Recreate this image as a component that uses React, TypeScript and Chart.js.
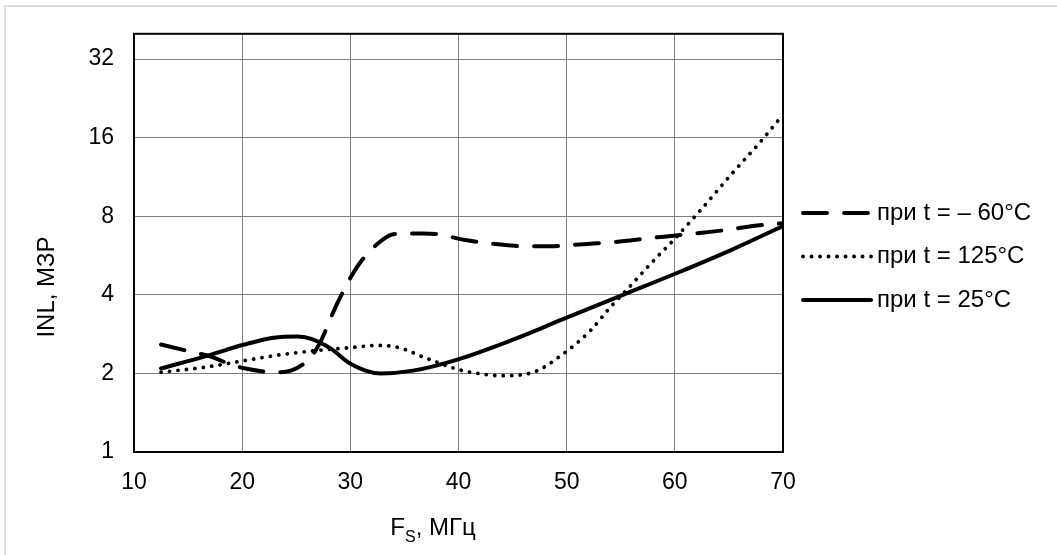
import React, { useEffect, useRef } from "react";
import { Chart, registerables } from "chart.js";

Chart.register(...registerables);

const xTicks = [10, 20, 30, 40, 50, 60, 70];
const yTicks = [1, 2, 4, 8, 16, 32];

const legendLabels = ["при t = – 60°C", "при t = 125°C", "при t = 25°C"];

const fMinus60 = [12.5, 15.3, 17.1, 19, 20.3, 23.1, 24.5, 26.3, 27.3, 28.2, 28.9, 30.2, 31, 32.8, 34, 36.7, 38, 40.5, 42, 44.6, 46, 48.8, 50.2, 52.8, 54.2, 56.8, 58.4, 60.8, 62.3, 64.9, 66.3, 69, 70];
const inlMinus60 = [2.58, 2.42, 2.32, 2.16, 2.09, 2.02, 2.05, 2.3, 2.67, 3.27, 3.79, 4.8, 5.38, 6.42, 6.83, 6.87, 6.83, 6.5, 6.36, 6.2, 6.14, 6.14, 6.2, 6.3, 6.36, 6.53, 6.65, 6.8, 6.9, 7.1, 7.25, 7.47, 7.52];

const f125 = [12.5, 16.8, 20.2, 23.6, 27, 30, 32.5, 34.5, 37.1, 40, 41.8, 43.9, 46.9, 49.7, 52.2, 54, 55.9, 58, 59.8, 61.7, 62.3, 65.4, 67.9, 70];
const inl125 = [2.02, 2.12, 2.24, 2.36, 2.45, 2.51, 2.56, 2.51, 2.28, 2.07, 2.0, 1.96, 2.02, 2.38, 2.92, 3.57, 4.33, 5.39, 6.43, 7.85, 8.37, 11.8, 15.4, 19.6];

const f25 = [12.5, 16.8, 20.2, 22.9, 25.1, 26.3, 28.2, 30, 32.8, 35.8, 39.9, 44.8, 50, 55.2, 60.2, 65.4, 70];
const inl25 = [2.09, 2.34, 2.58, 2.74, 2.77, 2.72, 2.49, 2.18, 2.0, 2.05, 2.26, 2.67, 3.27, 4.0, 4.85, 5.99, 7.34];

const FONT = "'Liberation Sans', Arial, sans-serif";

const toPoints = (xs: number[], ys: number[]) => xs.map((x, i) => ({ x, y: ys[i] }));

const decorPlugin = {
  id: "decor",
  beforeDraw(chart: any) {
    const ctx = chart.ctx;
    ctx.save();
    ctx.fillStyle = "#dcdcdc";
    ctx.fillRect(4, 5, 1053, 2);
    ctx.fillRect(4, 5, 2, 550);
    ctx.restore();
  },
  beforeDatasetsDraw(chart: any) {
    const { ctx, chartArea } = chart;
    ctx.save();
    ctx.strokeStyle = "#000";
    ctx.lineWidth = 2;
    ctx.strokeRect(chartArea.left, chartArea.top, chartArea.right - chartArea.left, chartArea.bottom - chartArea.top);
    ctx.restore();
  },
  afterDraw(chart: any) {
    const ctx = chart.ctx;
    ctx.save();
    ctx.fillStyle = "#000";
    const big = `24px ${FONT}`;
    const small = `16px ${FONT}`;
    ctx.font = big;
    // y title
    ctx.save();
    ctx.translate(47, 287);
    ctx.rotate(-Math.PI / 2);
    ctx.textAlign = "center";
    ctx.textBaseline = "middle";
    ctx.fillText("INL, МЗР", 0, 0);
    ctx.restore();
    // x title with subscript
    ctx.textBaseline = "alphabetic";
    ctx.textAlign = "left";
    ctx.font = big;
    const wF = ctx.measureText("F").width;
    const wRest = ctx.measureText(", МГц").width;
    ctx.font = small;
    const wS = ctx.measureText("S").width;
    const total = wF + wS + wRest;
    let x = 433 - total / 2;
    const base = 535;
    ctx.font = big;
    ctx.fillText("F", x, base);
    x += wF;
    ctx.font = small;
    ctx.fillText("S", x, base + 7);
    x += wS;
    ctx.font = big;
    ctx.fillText(", МГц", x, base);
    // legend
    chart.data.datasets.forEach((ds: any, i: number) => {
      const y = 213 + i * 43.5;
      ctx.save();
      ctx.strokeStyle = "#000";
      ctx.lineWidth = ds.borderWidth;
      ctx.lineCap = ds.borderCapStyle || "butt";
      ctx.setLineDash(ds.borderDash || []);
      ctx.beginPath();
      ctx.moveTo(803, y);
      ctx.lineTo(871, y);
      ctx.stroke();
      ctx.restore();
      ctx.font = big;
      ctx.textBaseline = "middle";
      ctx.fillText(legendLabels[i], 877, y);
    });
    ctx.restore();
  },
};

export default function App() {
  const ref = useRef<HTMLCanvasElement | null>(null);
  useEffect(() => {
    if (!ref.current) return;
    const chart = new Chart(ref.current, {
      type: "line",
      data: {
        datasets: [
          {
            label: legendLabels[0],
            data: toPoints(fMinus60, inlMinus60),
            borderColor: "#000",
            borderWidth: 4,
            borderDash: [24, 17],
            borderCapStyle: "round",
            pointRadius: 0,
            cubicInterpolationMode: "monotone",
            fill: false,
          },
          {
            label: legendLabels[1],
            data: toPoints(f125, inl125),
            borderColor: "#000",
            borderWidth: 3.8,
            borderDash: [0.1, 8.4],
            borderCapStyle: "round",
            pointRadius: 0,
            cubicInterpolationMode: "monotone",
            fill: false,
          },
          {
            label: legendLabels[2],
            data: toPoints(f25, inl25),
            borderColor: "#000",
            borderWidth: 4,
            borderCapStyle: "round",
            pointRadius: 0,
            cubicInterpolationMode: "monotone",
            fill: false,
          },
        ],
      } as any,
      options: {
        responsive: false,
        animation: false,
        layout: { padding: { left: 0, top: 32, right: 274, bottom: 0 } },
        plugins: { legend: { display: false }, tooltip: { enabled: false } },
        scales: {
          x: {
            type: "linear",
            min: 10,
            max: 70,
            afterBuildTicks: (s: any) => {
              s.ticks = xTicks.map((v) => ({ value: v }));
            },
            afterFit: (s: any) => {
              s.height = 103;
            },
            grid: { color: "#7f7f7f", lineWidth: 1, drawTicks: false },
            border: { display: false },
            ticks: {
              color: "#000",
              padding: 17,
              maxRotation: 0,
              font: { family: FONT, size: 23 },
            },
          },
          y: {
            type: "logarithmic",
            min: 1,
            max: 40,
            afterBuildTicks: (s: any) => {
              s.ticks = yTicks.map((v) => ({ value: v }));
            },
            afterFit: (s: any) => {
              s.width = 134;
            },
            grid: { color: "#7f7f7f", lineWidth: 1, drawTicks: false },
            border: { display: false },
            ticks: {
              color: "#000",
              padding: 20,
              font: { family: FONT, size: 23 },
              callback: (v: any) => String(v),
            },
          },
        },
      } as any,
      plugins: [decorPlugin],
    });
    return () => chart.destroy();
  }, []);
  return (
    <div style={{ position: "absolute", left: 0, top: 0, width: 1057, height: 555, background: "#fff" }}>
      <canvas ref={ref} width={1057} height={555} style={{ display: "block" }} />
    </div>
  );
}
